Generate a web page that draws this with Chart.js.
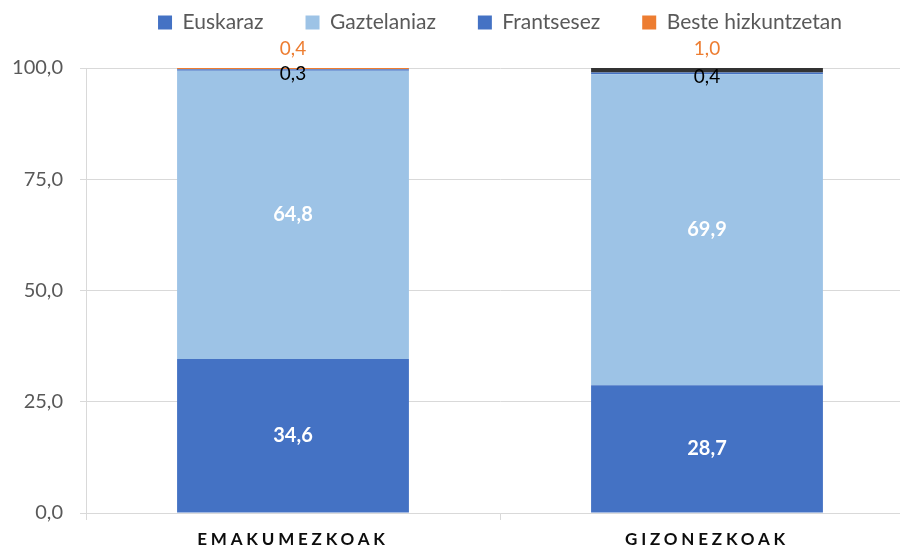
<!DOCTYPE html>
<html>
<head>
<meta charset="utf-8">
<script src="https://cdn.jsdelivr.net/npm/chart.js@4"></script>
<style>
  html, body { margin: 0; padding: 0; background: #fff; overflow: hidden; }
  #wrap { width: 900px; height: 548px; overflow: hidden; }
</style>
</head>
<body>
<div id="wrap"><canvas id="chart" width="914" height="548"></canvas></div>
<script>
const categories = ['EMAKUMEZKOAK', 'GIZONEZKOAK'];
const euskaraz = [34.6, 28.7];
const gaztelaniaz = [64.8, 69.9];
const frantsesez = [0.3, 0.4];
const beste = [0.4, 1.0];
const yTicks = [0, 25, 50, 75, 100];

const fmt = v => v.toFixed(1).replace('.', ',');
const FONT = 'Lato';

// value labels drawn on / above the bar segments
const valueLabels = {
  id: 'valueLabels',
  afterDatasetsDraw(chart) {
    const ctx = chart.ctx;
    chart.data.datasets.forEach((ds, di) => {
      const meta = chart.getDatasetMeta(di);
      meta.data.forEach((bar, i) => {
        const txt = fmt(ds.data[i]);
        ctx.save();
        ctx.textAlign = 'center';
        ctx.textBaseline = 'middle';
        let y;
        if (di < 2) {
          ctx.font = 'bold 20px ' + FONT;
          ctx.fillStyle = '#ffffff';
          y = (bar.y + bar.base) / 2;
        } else if (di === 2) {
          ctx.font = '19px ' + FONT;
          ctx.fillStyle = '#000000';
          y = (bar.y + bar.base) / 2 + 4;
        } else {
          ctx.font = '19px ' + FONT;
          ctx.fillStyle = '#ED7D31';
          y = bar.y - 19;
        }
        ctx.fillText(txt, bar.x, y);
        ctx.restore();
      });
    });
  }
};

// spaced-out category labels + fixed legend height
const layoutTweaks = {
  id: 'layoutTweaks',
  beforeInit(chart) {
    const lg = chart.legend;
    const fit = lg.fit;
    lg.fit = function () {
      fit.call(this);
      this.height = 98;
    };
  },
  beforeDraw(chart) {
    const sx = chart.scales.x;
    if (!sx._spaced) {
      const orig = sx.drawLabels;
      sx.drawLabels = function (area) {
        this.ctx.save();
        this.ctx.letterSpacing = '3.8px';
        orig.call(this, area);
        this.ctx.restore();
      };
      sx._spaced = true;
    }
  }
};

new Chart(document.getElementById('chart'), {
  type: 'bar',
  data: {
    labels: categories,
    datasets: [
      { label: 'Euskaraz', data: euskaraz, backgroundColor: '#4472C4' },
      { label: 'Gaztelaniaz', data: gaztelaniaz, backgroundColor: '#9DC3E6' },
      { label: 'Frantsesez', data: frantsesez, backgroundColor: '#4472C4' },
      {
        label: 'Beste hizkuntzetan',
        data: beste,
        backgroundColor: c => (c.type === 'data' && c.dataIndex === 1) ? '#333333' : '#ED7D31'
      }
    ]
  },
  options: {
    responsive: false,
    animation: false,
    layout: { padding: { top: -30, right: 0, left: 0, bottom: 0 } },
    datasets: {
      bar: { categoryPercentage: 1, barPercentage: 0.56, borderWidth: 0 }
    },
    plugins: {
      legend: {
        position: 'top',
        fullSize: false,
        labels: {
          boxWidth: 14,
          boxHeight: 14,
          padding: 42,
          color: '#595959',
          font: { family: FONT, size: 21 }
        }
      },
      tooltip: { enabled: false }
    },
    scales: {
      x: {
        stacked: true,
        afterFit(scale) { scale.height = 35; },
        grid: {
          offset: true,
          drawOnChartArea: false,
          tickLength: 7,
          color: '#D9D9D9'
        },
        border: { color: '#D9D9D9' },
        ticks: {
          color: '#0D0D0D',
          padding: 9,
          font: { family: FONT, size: 17, weight: 'bold' }
        }
      },
      y: {
        stacked: true,
        min: 0,
        max: 100,
        afterFit(scale) { scale.width = 86; },
        afterBuildTicks(scale) { scale.ticks = yTicks.map(v => ({ value: v })); },
        grid: { color: '#D9D9D9', tickLength: 6 },
        border: { color: '#D9D9D9' },
        ticks: {
          color: '#595959',
          padding: 17,
          font: { family: FONT, size: 20 },
          callback: v => fmt(v)
        }
      }
    }
  },
  plugins: [valueLabels, layoutTweaks]
});
</script>
</body>
</html>
